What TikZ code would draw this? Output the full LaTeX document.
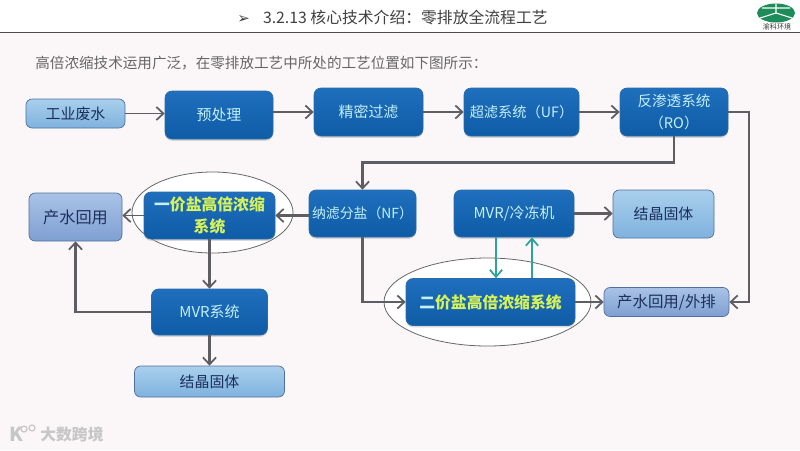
\documentclass[tikz,border=0pt]{standalone}
\usepackage{fontspec}
\setmainfont{Noto Sans CJK SC}
\newfontfamily\symfont{DejaVu Sans}
\usetikzlibrary{arrows.meta,calc,shadows,shapes.geometric}
\definecolor{pagebg}{HTML}{FBF7F8}
\definecolor{flowgray}{HTML}{5E5E62}
\definecolor{tealflow}{HTML}{2FA39B}
\definecolor{boxtop}{HTML}{1F6FBE}
\definecolor{boxbot}{HTML}{0F5CA6}
\definecolor{boxline}{HTML}{2A6AA8}
\definecolor{palelight}{HTML}{A9CFEC}
\definecolor{paledark}{HTML}{7FB2DE}
\definecolor{slatelight}{HTML}{A9C3E6}
\definecolor{slatedark}{HTML}{7F9FD2}
\definecolor{slateline}{HTML}{4F6F9E}
\definecolor{inktext}{HTML}{1B2F5C}
\definecolor{cyantext}{HTML}{C4F0F6}
\definecolor{limetext}{HTML}{D6F25A}
\definecolor{logogreen}{HTML}{1E8C5A}
\tikzset{
	boxsize/.style 2 args={minimum width=#1*0.02cm,minimum height=#2*0.02cm,inner sep=0pt,align=center},
	bluebox/.style={rounded corners=4pt,draw=boxline,top color=boxtop,bottom color=boxbot,text=cyantext,
		drop shadow={shadow xshift=0pt,shadow yshift=-1pt,fill=black!30},font=\fontsize{8.5}{12}\selectfont},
	hotbox/.style={bluebox,text=limetext,font=\fontsize{9}{12.5}\bfseries\selectfont},
	palebox/.style={rounded corners=3.5pt,draw=slateline,top color=palelight,bottom color=paledark,text=inktext,font=\fontsize{8.5}{12}\selectfont},
	slatebox/.style={palebox,top color=slatelight,bottom color=slatedark},
	ringnote/.style={ellipse,draw=black!60,fill=white,line width=0.45pt,inner sep=0pt},
	flow/.style={draw=flowgray,line width=1.1pt,-{Straight Barb[length=4pt,width=7.5pt,line width=1pt]}},
	flowheavy/.style={flow,line width=1.5pt},
	tealarrow/.style={draw=tealflow,line width=1.1pt,-{Straight Barb[length=4pt,width=7pt,line width=1pt]}}
}
\begin{document}
\begin{tikzpicture}[x=0.02cm,y=-0.02cm]
	\useasboundingbox (0,0) rectangle (800,450);
	\fill[pagebg] (0,0) rectangle (800,450);
	\fill[white] (0,0) rectangle (800,32);
	\draw[black!70,line width=0.9pt] (0,32.5) -- (800,32.5);
	% heading
	\node[font=\fontsize{9}{11}\selectfont,text=black!75,anchor=west,inner sep=0pt] (heading) at (237,17) {{\symfont\fontsize{8.5}{9}\selectfont ➢}\hspace{7.5pt}3.2.13 核心技术介绍：零排放全流程工艺};
	\fill[logogreen] (776,13) ellipse (19 and 9.5);
	\draw[white,line width=0.6pt] (776,4) -- (776,13) -- (760,18) (776,13) -- (792,18) (762,8) -- (790,8);
	\node[font=\fontsize{4}{5}\selectfont,text=black!80,inner sep=0pt] (logotext) at (777,27) {渝科环境};
	\node[font=\fontsize{8.3}{10}\selectfont,text=black!60,anchor=west,inner sep=0pt] (intro) at (35,63) {高倍浓缩技术运用广泛，在零排放工艺中所处的工艺位置如下图所示：};
	% rings sit behind the boxes
	\node[ringnote,minimum width=161*0.02cm,minimum height=81*0.02cm] (ringone) at (212.5,212.5) {};
	\node[ringnote,minimum width=207*0.02cm,minimum height=88*0.02cm] (ringtwo) at (487.5,302) {};
	% top row
	\node[palebox,boxsize={99}{29}] (wastewater) at (75.5,113.5) {工业废水};
	\node[bluebox,boxsize={108}{48}] (pretreat) at (219,115) {预处理};
	\node[bluebox,boxsize={109}{48}] (finefilter) at (368.5,112) {精密过滤};
	\node[bluebox,boxsize={115}{48},font=\fontsize{8.1}{12}\selectfont] (uf) at (521.5,112) {超滤系统（UF）};
	\node[bluebox,boxsize={108}{48},font=\fontsize{8.3}{12}\selectfont] (ro) at (674,112) {反渗透系统\\（RO）};
	% middle row
	\node[slatebox,boxsize={93}{48}] (reuse) at (75.5,217) {\fontsize{9.2}{12}\selectfont 产水回用};
	\node[hotbox,boxsize={131}{47}] (onesalt) at (209.5,215.5) {{\color{cyantext}一}价盐高倍浓缩\\系统};
	\node[bluebox,boxsize={107}{47},font=\fontsize{7.9}{12}\selectfont] (nf) at (362.5,213.5) {纳滤分盐（NF）};
	\node[bluebox,boxsize={120}{47}] (mvrcold) at (514,213.5) {MVR/冷冻机};
	\node[palebox,boxsize={101}{48}] (crystalright) at (663.5,214) {结晶固体};
	% lower rows
	\node[hotbox,boxsize={169}{47}] (twosalt) at (490.5,302) {{\color{cyantext}二}价盐高倍浓缩系统};
	\node[slatebox,boxsize={125}{29},font=\fontsize{8.8}{12}\selectfont] (discharge) at (666.5,302) {产水回用/外排};
	\node[bluebox,boxsize={116}{46}] (mvr) at (209.5,312) {MVR系统};
	\node[palebox,boxsize={150}{31}] (crystalbottom) at (209.5,381.5) {结晶固体};
	\coordinate (rojog) at (749,200);
	\coordinate (tealdown) at (496,260);
	\coordinate (tealup) at (532,260);
	% connectors
	\draw[flow] (wastewater) -- (wastewater -| pretreat.west);
	\draw[flow] (pretreat.east |- finefilter) -- (finefilter);
	\draw[flow] (finefilter) -- (uf);
	\draw[flow] (uf) -- (ro);
	\draw[flowheavy] (ro.south) |- ($(nf.north)+(0,-27)$) -- (nf.north);
	\draw[flowheavy] (ro.east) -| (rojog) |- (discharge.east);
	\draw[flowheavy] (nf.west |- onesalt) -- (onesalt.east);
	\draw[flow] (onesalt.west) -- (onesalt.west -| reuse.east);
	\draw[flowheavy] (onesalt.south) -- (mvr.north);
	\draw[flowheavy] (mvr.west) -| (reuse.south);
	\draw[flowheavy] (mvr.south) -- (crystalbottom.north);
	\draw[flowheavy] (nf.south) |- (twosalt.west);
	\draw[flowheavy] (mvrcold.east) -- (mvrcold.east -| crystalright.west);
	\draw[flow] (twosalt.east) -- (discharge.west);
	\draw[tealarrow] (mvrcold.south -| tealdown) -- (twosalt.north -| tealdown);
	\draw[tealarrow] (twosalt.north -| tealup) -- (mvrcold.south -| tealup);
	% watermark
	\node[font=\bfseries\fontsize{9}{11}\selectfont,text=black!22,anchor=west,inner sep=0pt] (markname) at (40,434) {大数跨境};
	\node[font=\bfseries\fontsize{11}{11}\selectfont,text=black!22,anchor=west,inner sep=0pt] (markk) at (9,434) {K};
	\draw[black!22,line width=0.7pt] (24,429) circle (3) (32,428) circle (3);
\end{tikzpicture}
\end{document}
